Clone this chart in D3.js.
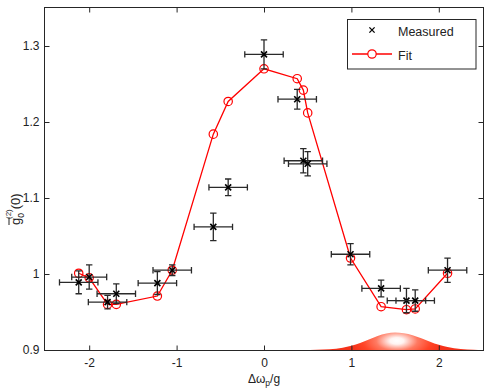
<!DOCTYPE html>
<html><head><meta charset="utf-8">
<script src="https://cdn.jsdelivr.net/npm/d3@7"></script>
<style>
body{margin:0;background:#fff}
svg{display:block}
text{font-family:"Liberation Sans",Arial,Helvetica,sans-serif;fill:#222}
</style>
</head><body>
<svg id="chart" width="485" height="388"></svg>
<script>
// ---- data ----
const detuning    = [-2.12,-2.00,-1.79,-1.69,-1.22,-1.05,-0.58,-0.41,0.00,0.38,0.45,0.50,0.99,1.34,1.63,1.73,2.10];
const measured    = [0.989,0.996,0.963,0.974,0.988,1.005,1.062,1.114,1.289,1.230,1.149,1.145,1.026,0.981,0.965,0.965,1.005];
const measuredErr = [0.015,0.016,0.009,0.013,0.015,0.007,0.018,0.011,0.019,0.013,0.016,0.016,0.014,0.011,0.016,0.014,0.016];
const detuningErr = [0.22,0.20,0.22,0.22,0.22,0.22,0.22,0.22,0.22,0.22,0.22,0.22,0.22,0.22,0.22,0.22,0.22];
const fitValues   = [1.001,0.995,0.960,0.960,0.971,1.005,1.184,1.227,1.270,1.257,1.242,1.212,1.021,0.957,0.953,0.954,1.001];
const pumpX       = [0.45,0.60,0.75,0.90,1.00,1.10,1.20,1.30,1.40,1.50,1.60,1.70,1.80,1.90,2.00,2.10,2.25,2.40,2.50];
const pumpHeight  = [0.0000,0.0003,0.0010,0.0030,0.0055,0.0092,0.0138,0.0183,0.0216,0.0230,0.0222,0.0195,0.0155,0.0110,0.0068,0.0038,0.0013,0.0004,0.0001];
const xTicks = [-2,-1,0,1,2];
const yTicks = [0.9,1,1.1,1.2,1.3];
const yTickLabels = ["0.9","1","1.1","1.2","1.3"];
const legendLabels = ["Measured","Fit"];

// ---- layout ----
const svg = d3.select("#chart");
const L = 44.5, R = 483.5, T = 7.5, B = 350.5;
const x = d3.scaleLinear().domain([-2.5, 2.5]).range([45.5, 482.5]);
const y = d3.scaleLinear().domain([0.9, 1.35]).range([350, 8]);
const axisColor = "#262626";
const FS = 12;

// pump spectrum bump
const defs = svg.append("defs");
const peakX = x(1.52), peakY = y(0.9 + 0.012);
const grad = defs.append("radialGradient").attr("id","pumpGrad")
  .attr("gradientUnits","userSpaceOnUse")
  .attr("cx",0).attr("cy",0).attr("r",1)
  .attr("gradientTransform",`translate(${peakX},${peakY}) scale(46,22)`);
grad.append("stop").attr("offset","0%").attr("stop-color","#ffffff");
grad.append("stop").attr("offset","15%").attr("stop-color","#fff4f2");
grad.append("stop").attr("offset","45%").attr("stop-color","#ff7a62");
grad.append("stop").attr("offset","75%").attr("stop-color","#ff4426");
grad.append("stop").attr("offset","100%").attr("stop-color","#f5321a");
const pumpData = pumpX.map((v,i)=>[v, 0.9 + pumpHeight[i]]);
svg.append("path").datum(pumpData)
  .attr("fill","url(#pumpGrad)")
  .attr("d", d3.area().x(d=>x(d[0])).y0(y(0.9)).y1(d=>y(d[1])).curve(d3.curveMonotoneX));

// axes box
svg.append("rect").attr("x",L).attr("y",T).attr("width",R-L).attr("height",B-T)
  .attr("fill","none").attr("stroke",axisColor).attr("stroke-width",1);

const fmt = d => yTickLabels[yTicks.indexOf(d)];
const gx = svg.append("g").attr("transform",`translate(0,${B})`)
  .call(d3.axisBottom(x).tickValues(xTicks).tickSizeInner(-5).tickSizeOuter(0).tickPadding(8).tickFormat(d3.format("d")));
const gxt = svg.append("g").attr("transform",`translate(0,${T})`)
  .call(d3.axisTop(x).tickValues(xTicks).tickSizeInner(-5).tickSizeOuter(0).tickFormat(""));
const gy = svg.append("g").attr("transform",`translate(${L},0)`)
  .call(d3.axisLeft(y).tickValues(yTicks).tickSizeInner(-5).tickSizeOuter(0).tickPadding(5).tickFormat(fmt));
const gyr = svg.append("g").attr("transform",`translate(${R},0)`)
  .call(d3.axisRight(y).tickValues(yTicks).tickSizeInner(-5).tickSizeOuter(0).tickFormat(""));
[gx,gxt,gy,gyr].forEach(g=>{
  g.select(".domain").remove();
  g.selectAll(".tick line").attr("stroke",axisColor);
  g.selectAll("text").attr("font-size",FS).attr("fill","#222")
   .attr("font-family",'"Liberation Sans",Arial,sans-serif');
});
gx.selectAll("text").text(d => d<0 ? "-" + Math.abs(d) : d);

// axis titles
const xt = svg.append("text").attr("x",264).attr("y",383).attr("text-anchor","middle").attr("font-size",FS);
xt.append("tspan").text("Δω");
xt.append("tspan").attr("font-size",8.5).attr("dy",3).text("p");
xt.append("tspan").attr("dy",-3).text("/g");

const yl = svg.append("g").attr("transform","translate(20,199) rotate(-90)");
const ylt = yl.append("text").attr("x",-26).attr("y",0).attr("font-size",FS+1);
ylt.append("tspan").text("g");
ylt.append("tspan").attr("font-size",8.5).attr("dy",3.5).text("0");
ylt.append("tspan").attr("font-size",8).attr("dx",-6).attr("dy",-13).text("(2)");
ylt.append("tspan").attr("font-size",FS+1).attr("dy",9.5).text("(0)");
yl.append("line").attr("x1",-26).attr("x2",-18.5).attr("y1",-11).attr("y2",-11).attr("stroke","#222").attr("stroke-width",1);

// fit line + circles
const fitData = detuning.map((d,i)=>[d, fitValues[i]]);
svg.append("path").datum(fitData).attr("fill","none").attr("stroke","#ff0000").attr("stroke-width",1.3)
  .attr("d", d3.line().x(d=>x(d[0])).y(d=>y(d[1])));
svg.append("g").selectAll("circle").data(fitData).join("circle")
  .attr("cx",d=>x(d[0])).attr("cy",d=>y(d[1])).attr("r",4.2)
  .attr("fill","none").attr("stroke","#ff0000").attr("stroke-width",1.2);

// measured with error bars
const errColor = "#2a2a2a";
const mg = svg.append("g").attr("stroke",errColor).attr("stroke-width",1.3).attr("fill","none");
detuning.forEach((d,i)=>{
  const cx = x(d), cy = y(measured[i]);
  const x0 = x(d - detuningErr[i]), x1 = x(d + detuningErr[i]);
  const y0 = y(measured[i] - measuredErr[i]), y1 = y(measured[i] + measuredErr[i]);
  const cap = 3.2;
  mg.append("path").attr("d",
    `M${x0},${cy}H${x1}M${x0},${cy-cap}V${cy+cap}M${x1},${cy-cap}V${cy+cap}` +
    `M${cx},${y0}V${y1}M${cx-cap},${y0}H${cx+cap}M${cx-cap},${y1}H${cx+cap}`);
  const s = 3;
  mg.append("path").attr("stroke","#000").attr("stroke-width",1.6)
    .attr("d",`M${cx-s},${cy-s}L${cx+s},${cy+s}M${cx-s},${cy+s}L${cx+s},${cy-s}`);
});

// legend
const lg = svg.append("g");
lg.append("rect").attr("x",347.5).attr("y",19.5).attr("width",128.5).attr("height",49.5)
  .attr("fill","#fff").attr("stroke",axisColor).attr("stroke-width",1);
const s = 2.6;
lg.append("path").attr("stroke","#000").attr("stroke-width",1.3)
  .attr("d",`M${372-s},${30-s}L${372+s},${30+s}M${372-s},${30+s}L${372+s},${30-s}`);
lg.append("text").attr("x",398).attr("y",35.5).attr("font-size",12.5).text(legendLabels[0]);
lg.append("line").attr("x1",352).attr("x2",392).attr("y1",54).attr("y2",54).attr("stroke","#ff0000").attr("stroke-width",1.3);
lg.append("circle").attr("cx",372).attr("cy",54).attr("r",4.2).attr("fill","#fff").attr("stroke","#ff0000").attr("stroke-width",1.2);
lg.append("text").attr("x",398).attr("y",59.5).attr("font-size",12.5).text(legendLabels[1]);
</script>
</body></html>
